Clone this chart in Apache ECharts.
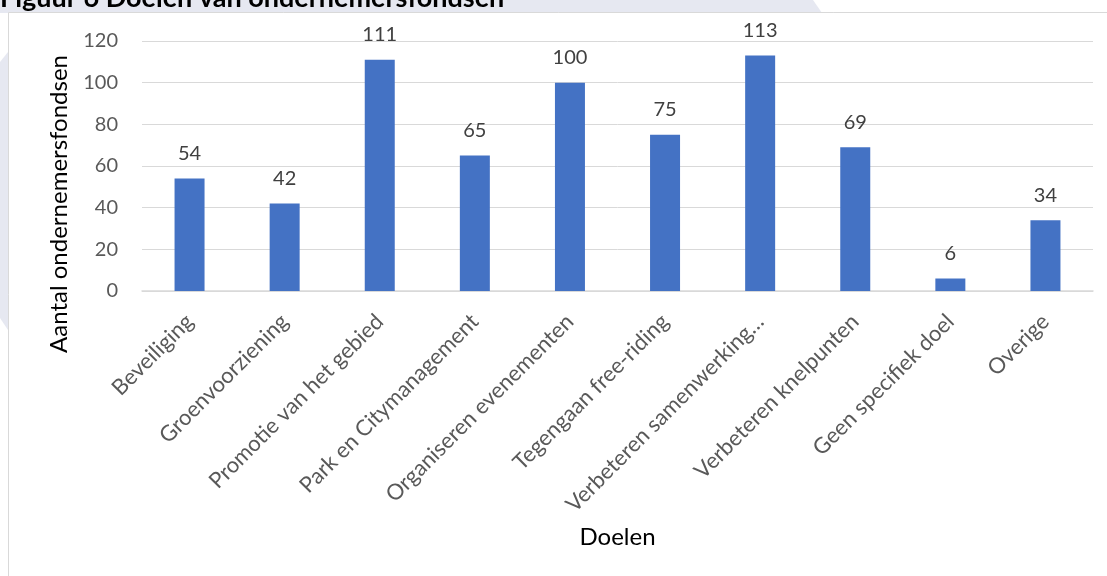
<!DOCTYPE html>
<html>
<head>
<meta charset="utf-8">
<script src="https://cdn.jsdelivr.net/npm/echarts@6/dist/echarts.min.js"></script>
<style>
html,body{margin:0;padding:0;background:#fff;}
#c{width:1107px;height:576px;}
</style>
</head>
<body>
<div id="c"></div>
<script>
const categories = ["Beveiliging","Groenvoorziening","Promotie van het gebied","Park en Citymanagement","Organiseren evenementen","Tegengaan free-riding","Verbeteren samenwerking…","Verbeteren knelpunten","Geen specifiek doel","Overige"];
const values = [54,42,111,65,100,75,113,69,6,34];
const yTicks = {min:0,max:120,interval:20};
const titleText = "Figuur 6 Doelen van ondernemersfondsen";
const yTitle = "Aantal ondernemersfondsen";
const xTitle = "Doelen";

const FONT = "Lato, 'Open Sans', sans-serif";
const chart = echarts.init(document.getElementById('c'));
chart.setOption({
  animation:false,
  backgroundColor:'#fff',
  graphic:[
    {type:'polygon', z:-20, shape:{points:[[0,0],[813,0],[822,13],[0,13]]}, style:{fill:'#e6e8f1'}},
    {type:'polygon', z:-20, shape:{points:[[0,62],[8,52],[8,330],[0,318]]}, style:{fill:'#e6e8f1'}},
    {type:'rect', z:-15, shape:{x:8.5,y:12.5,width:1200,height:700}, style:{fill:'#fff',stroke:'#d9d9d9',lineWidth:1}},
    {type:'text', z:10, x:0, y:-2, style:{text:titleText, font:"bold 27px "+FONT, fill:'#000', verticalAlign:'middle', align:'left'}},
    {type:'text', z:10, x:59, y:204, rotation:Math.PI/2, style:{text:yTitle, font:"24px "+FONT, fill:'#000', align:'center', verticalAlign:'middle'}}
  ],
  grid:{left:142,right:14,top:41,bottom:285,containLabel:false},
  xAxis:{
    type:'category',
    data:categories,
    name:xTitle,
    nameLocation:'middle',
    nameGap:234,
    nameTextStyle:{fontFamily:FONT,fontSize:24,color:'#000'},
    axisLine:{show:true,lineStyle:{color:'#d9d9d9',width:1.5}},
    axisTick:{show:false},
    axisLabel:{interval:0,rotate:45,margin:27,fontFamily:FONT,fontSize:22,color:'#595959'}
  },
  yAxis:{
    type:'value',
    min:yTicks.min,max:yTicks.max,interval:yTicks.interval,
    axisLine:{show:false},
    axisTick:{show:false},
    axisLabel:{margin:24,fontFamily:FONT,fontSize:20,color:'#595959'},
    splitLine:{lineStyle:{color:'#d9d9d9',width:1}}
  },
  series:[{
    type:'bar',
    data:values,
    barWidth:30,
    itemStyle:{color:'#4472c4'},
    label:{show:true,position:'top',distance:15,fontFamily:FONT,fontSize:20,color:'#404040'}
  }]
});
</script>
</body>
</html>
